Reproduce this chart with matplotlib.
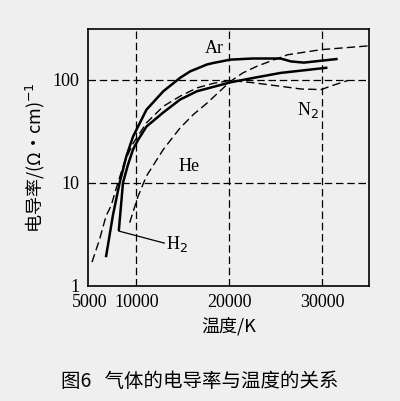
import matplotlib
matplotlib.use("Agg")
import matplotlib.pyplot as plt
from matplotlib.ticker import FixedLocator, NullLocator

plt.rcParams['font.family'] = ['Liberation Serif', 'Noto Sans CJK SC', 'DejaVu Sans']

# 曲线数据 (温度 K, 电导率)
ar_t = [6750, 7470, 8200, 8920, 9640, 11080, 12890, 14700, 15780, 17580, 18300, 20100, 22500,
        25500, 26600, 28000, 31500]
ar_v = [1.95, 4.8, 10, 18, 28, 51, 77, 104, 120, 140, 145, 156, 160, 160, 150, 146, 158]
h2_t = [8120, 8560, 9100, 9640, 10180, 11080, 12890, 14700, 16500, 20100, 22640, 25500, 30400]
h2_v = [3.5, 10, 15, 21, 26, 35, 48, 64, 77, 94, 104, 116, 130]
n2_t = [5230, 6030, 6750, 7290, 8010, 8740, 9640, 11080, 12890, 14700, 16500, 18300, 20100,
        22640, 25500, 27700, 29860, 31300, 32740]
n2_v = [1.7, 2.8, 4.8, 6, 10, 16, 24, 38, 55, 69, 83, 92, 98, 93, 86, 81, 80, 89, 98]
he_t = [9280, 10180, 11080, 12890, 14700, 16140, 17580, 20100, 21440, 22990, 26250, 29860, 35200]
he_v = [4.1, 7.4, 11.6, 21, 34, 46, 59, 96, 116, 135, 174, 195, 213]

x_ticks = [5000, 10000, 20000, 30000]
y_ticks = [1, 10, 100]

bg = '#efefef'
fig = plt.figure(figsize=(4.0, 4.01), dpi=100, facecolor=bg)
ax = fig.add_axes([0.22, 0.287, 0.7025, 0.641], facecolor=bg)

ax.plot(ar_t, ar_v, color='black', lw=1.8)
ax.plot(h2_t, h2_v, color='black', lw=1.8)
ax.plot(n2_t, n2_v, color='black', lw=1.0, ls=(0, (6, 3)))
ax.plot(he_t, he_v, color='black', lw=1.0, ls=(0, (6, 3)))

ax.set_yscale('log')
ax.set_xlim(4800, 35000)
ax.set_ylim(1, 310)
ax.xaxis.set_major_locator(FixedLocator(x_ticks))
ax.yaxis.set_major_locator(FixedLocator(y_ticks))
ax.yaxis.set_minor_locator(NullLocator())
ax.set_xticklabels([str(t) for t in x_ticks])
ax.set_yticklabels([str(t) for t in y_ticks])
ax.tick_params(length=0, labelsize=13)
ax.tick_params(axis='x', pad=6)
ax.tick_params(axis='y', pad=6)
for v in [10000, 20000, 30000]:
    ax.axvline(v, color='black', lw=0.9, ls=(0, (6, 3)))
for v in [10, 100]:
    ax.axhline(v, color='black', lw=0.9, ls=(0, (6, 3)))
for s in ax.spines.values():
    s.set_linewidth(1.2)

ax.text(17400, 180, 'Ar', fontsize=13)
ax.text(27300, 45, r'N$_2$', fontsize=13)
ax.text(14500, 13, 'He', fontsize=13)
ax.text(13200, 2.3, r'H$_2$', fontsize=13)
ax.plot([8120, 13000], [3.4, 2.6], color='black', lw=0.9)

ax.set_xlabel('温度/K', fontsize=13, family=['Noto Sans CJK SC', 'DejaVu Sans'])
ax.set_ylabel('电导率/(Ω·cm)$^{-1}$', fontsize=13, family=['Noto Sans CJK SC', 'DejaVu Sans'])
fig.text(0.5, 0.035, '图6   气体的电导率与温度的关系', ha='center', fontsize=14,
         family=['Noto Sans CJK SC', 'DejaVu Sans'])

fig.savefig('out.png', dpi=100, facecolor=bg)
